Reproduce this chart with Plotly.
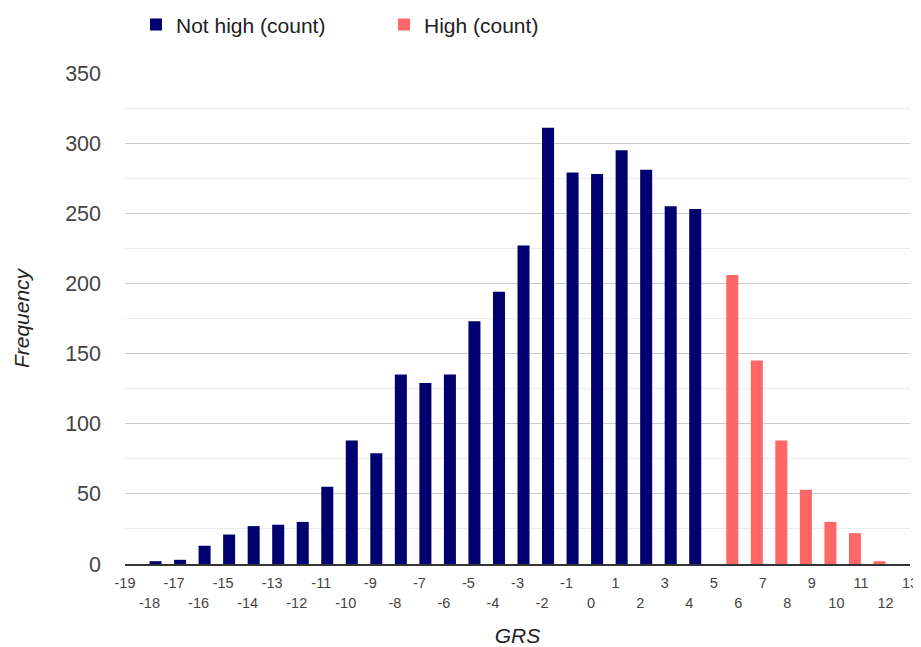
import plotly.graph_objects as go

# ---- data ----
not_high_x = [-18, -17, -16, -15, -14, -13, -12, -11, -10, -9, -8, -7, -6, -5, -4, -3, -2, -1, 0, 1, 2, 3, 4]
not_high_counts = [2, 3, 13, 21, 27, 28, 30, 55, 88, 79, 135, 129, 135, 173, 194, 227, 311, 279, 278, 295, 281, 255, 253]
high_x = [6, 7, 8, 9, 10, 11, 12]
high_counts = [206, 145, 88, 53, 30, 22, 2]

odd_ticks = [-19, -17, -15, -13, -11, -9, -7, -5, -3, -1, 1, 3, 5, 7, 9, 11, 13]
even_ticks = [-18, -16, -14, -12, -10, -8, -6, -4, -2, 0, 2, 4, 6, 8, 10, 12]
y_ticks = [0, 50, 100, 150, 200, 250, 300, 350]

FONT = "Arial, Liberation Sans, sans-serif"
BLUE = "#000070"
RED = "#ff6666"

fig = go.Figure()
fig.add_trace(go.Bar(
    x=not_high_x, y=not_high_counts, name="Not high (count)",
    marker=dict(color=BLUE, line=dict(width=0)),
    offset=0, width=0.49,
))
fig.add_trace(go.Bar(
    x=high_x, y=high_counts, name="High (count)",
    marker=dict(color=RED, line=dict(width=0)),
    offset=-0.49, width=0.49,
    xaxis="x2",
))

# the page body adds an 8px offset, so the figure is 8px smaller than the window
fig.update_layout(
    width=913, height=639,
    margin=dict(l=117, r=11, t=65, b=83, autoexpand=False),
    paper_bgcolor="white", plot_bgcolor="white",
    barmode="overlay",
    font=dict(family=FONT, color="#444444"),
    showlegend=True,
    legend=dict(
        orientation="h", x=0.014, xanchor="left", y=1.098, yanchor="middle",
        font=dict(size=21, color="#222222", family=FONT),
        entrywidth=203, entrywidthmode="pixels",
        bgcolor="rgba(0,0,0,0)",
    ),
    xaxis=dict(
        range=[-19, 13], tickmode="array",
        tickvals=odd_ticks, ticktext=[str(v) for v in odd_ticks],
        ticks="", showgrid=False, zeroline=False,
        showline=True, linecolor="#333333", linewidth=2,
        tickfont=dict(size=14.5, color="#444444", family=FONT),
        ticklabelstandoff=5, automargin=False,
        title=dict(text="<i>GRS</i>", font=dict(size=21, color="#222222", family=FONT), standoff=42),
    ),
    xaxis2=dict(
        range=[-19, 13], overlaying="x", matches="x", anchor="y", side="bottom",
        tickmode="array",
        tickvals=even_ticks, ticktext=[str(v) for v in even_ticks],
        ticks="", showgrid=False, zeroline=False, showline=False,
        tickfont=dict(size=14.5, color="#444444", family=FONT),
        ticklabelstandoff=28, automargin=False,
    ),
    yaxis=dict(
        range=[0, 350], tickmode="array", tickvals=y_ticks,
        ticks="", showgrid=True, gridcolor="#cccccc", gridwidth=1,
        zeroline=False, automargin=False,
        minor=dict(dtick=25, showgrid=True, gridcolor="#ebebeb", gridwidth=1),
        tickfont=dict(size=21.5, color="#444444", family=FONT),
        ticklabelstandoff=23,
        title=dict(text="<i>Frequency</i>", font=dict(size=21, color="#222222", family=FONT), standoff=29),
    ),
)

fig.write_html("out.html")
